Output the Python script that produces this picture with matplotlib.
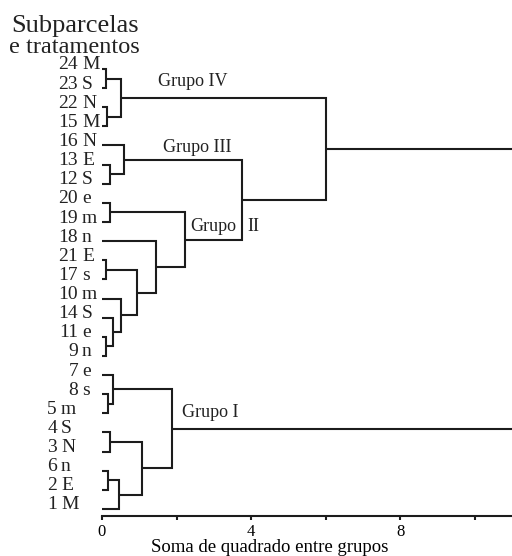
import matplotlib
matplotlib.use('Agg')
import matplotlib.pyplot as plt
from matplotlib import transforms

plt.rcParams['font.family'] = 'Liberation Serif'

# leaves, top to bottom
leaf_numbers = ['24', '23', '22', '15', '16', '13', '12', '20', '19', '18', '21', '17',
                '10', '14', '11', '9', '7', '8', '5', '4', '3', '6', '2', '1']
leaf_letters = ['M', 'S', 'N', 'M', 'N', 'E', 'S', 'e', 'm', 'n', 'E', 's',
                'm', 'S', 'e', 'n', 'e', 's', 'm', 'S', 'N', 'n', 'E', 'M']

# merges: leaves are nodes 0..23, each merge makes node 24, 25, ...
merge_a = [0, 2, 24, 5, 4, 7, 10, 14, 13, 12, 30, 9, 29, 28, 26,
           17, 16, 19, 21, 42, 41, 40, 38]
merge_b = [1, 3, 25, 6, 27, 8, 11, 15, 31, 32, 33, 34, 35, 36, 37,
           18, 39, 20, 22, 23, 43, 44, 45]
merge_h = [0.11, 0.13, 0.51, 0.21, 0.59, 0.21, 0.11, 0.11, 0.29, 0.51, 0.94, 1.45,
           2.23, 3.75, 6.0, 0.16, 0.29, 0.21, 0.16, 0.46, 1.07, 1.88, 12.5]

n = len(leaf_numbers)
W, H = 512, 556
fig = plt.figure(figsize=(W / 100, H / 100), dpi=100)
ax = fig.add_axes([102 / W, 40 / H, 410 / W, 456 / H])

ypos = {i: i for i in range(n)}
hpos = {i: 0.0 for i in range(n)}
for k, (a, b, h) in enumerate(zip(merge_a, merge_b, merge_h)):
    ax.plot([hpos[a], h, h, hpos[b]], [ypos[a], ypos[a], ypos[b], ypos[b]],
            color='#1c1c1c', lw=1.5, solid_capstyle='butt', solid_joinstyle='miter',
            clip_on=False)
    ypos[n + k] = (ypos[a] + ypos[b]) / 2
    hpos[n + k] = h

ax.set_xlim(0, 11)
ax.set_ylim(23.37, -0.47)

for s in ['top', 'right', 'left']:
    ax.spines[s].set_visible(False)
ax.spines['bottom'].set_linewidth(1.5)
ax.spines['bottom'].set_color('#1c1c1c')
ax.set_yticks([])
ax.set_xticks([0, 4, 8])
ax.set_xticks([2, 6, 10], minor=True)
ax.tick_params(axis='x', which='both', direction='out', length=3, width=1.5,
               color='#1c1c1c', labelsize=12, pad=3)
ax.set_xlabel('Soma de quadrado entre grupos', fontsize=13.5)
ax.xaxis.set_label_coords((270 - 102) / 410, -0.07)
ax.xaxis.label.set_va('center')

# leaf labels: number right aligned, letter after it
trans = transforms.blended_transform_factory(fig.transFigure, ax.transData)
trans = transforms.offset_copy(trans, fig=fig, x=0, y=4, units='dots')
for i in range(n):
    shift = 21 if i >= 18 else 0
    ax.text((78 - shift) / W, i, leaf_numbers[i], transform=trans, ha='right',
            va='center', fontsize=14, color='#222222')
    ax.text((82 - shift) / W, i, leaf_letters[i], transform=trans, ha='left',
            va='center', fontsize=14, color='#222222')

ax.text(1.50, 0.68, 'Grupo IV', fontsize=13, va='center', color='#222222')
ax.text(1.64, 4.08, 'Grupo III', fontsize=13, va='center', color='#222222')
ax.text(2.36, 8.26, 'Grupo', fontsize=13, va='center', color='#222222')
ax.text(3.89, 8.26, 'II', fontsize=13, va='center', color='#222222')
ax.text(2.14, 17.98, 'Grupo I', fontsize=13, va='center', color='#222222')

fig.text(11 / W, 1 - 32 / H, 'Subparcelas', fontsize=19, va='baseline', color='#222222')
fig.text(9 / W, 1 - 53 / H, 'e tratamentos', fontsize=17.5, va='baseline', color='#222222')

fig.savefig('out.png', dpi=100)
